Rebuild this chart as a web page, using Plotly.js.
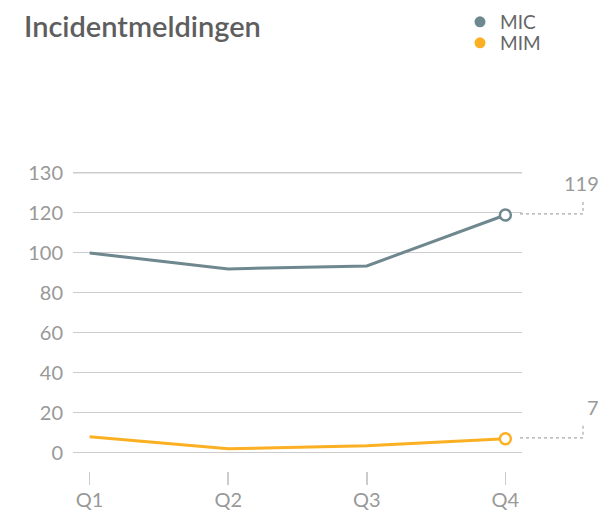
<!DOCTYPE html>
<html>
<head>
<meta charset="utf-8">
<script src="https://cdn.plot.ly/plotly-3.0.1.min.js"></script>
<style>
  html, body { margin: 0; padding: 0; background: #fff; }
  #chart { width: 603px; height: 510px; }
</style>
</head>
<body>
<div id="chart"></div>
<script>
// Data
const quarters = ['Q1', 'Q2', 'Q3', 'Q4'];
const mic = [100, 92, 93.5, 119];
const mim = [8, 2, 3.5, 7];

// y ticks: the top gridline carries the label 130
const yTickVals = [0, 20, 40, 60, 80, 100, 120, 140];
const yTickText = ['0', '20', '40', '60', '80', '100', '120', '130'];

const micColor = '#6f8890';
const mimColor = '#fbb023';
const last = quarters.length - 1;

function lineTrace(name, values, color) {
    return {
        x: quarters, y: values, name: name, type: 'scatter', mode: 'lines',
        line: { color: color, width: 3 }, showlegend: false, hoverinfo: 'skip'
    };
}

function endMarker(name, values, color) {
    return {
        x: [quarters[last]], y: [values[last]], name: name, type: 'scatter', mode: 'markers',
        marker: { symbol: 'circle', size: 11, color: '#fff', line: { color: color, width: 2.5 } },
        showlegend: false, hoverinfo: 'skip', cliponaxis: false
    };
}

// legend-only entries so the legend shows plain dots
function legendDot(name, color, legendId) {
    return {
        x: [null], y: [null], name: name, type: 'scatter', mode: 'markers',
        marker: { symbol: 'circle', size: 11, color: color }, legend: legendId
    };
}

const data = [
    lineTrace('MIC', mic, micColor),
    lineTrace('MIM', mim, mimColor),
    endMarker('MIC', mic, micColor),
    endMarker('MIM', mim, mimColor),
    legendDot('MIC', micColor, 'legend'),
    legendDot('MIM', mimColor, 'legend2')
];

// value labels with an elbow of dots to the last point
const annotations = [];
const shapes = [];
[mic, mim].forEach(series => {
    annotations.push({
        x: quarters[last], y: series[last], xref: 'x', yref: 'y',
        text: String(series[last]), showarrow: false,
        xanchor: 'right', yanchor: 'middle', xshift: 96, yshift: 32,
        font: { size: 20, color: '#999' }
    });
    shapes.push({
        type: 'path', xref: 'paper', yref: 'y',
        xsizemode: 'pixel', ysizemode: 'pixel',
        xanchor: 1, yanchor: series[last],
        path: 'M-2,1 H61 V14',
        line: { color: '#aaa', width: 1.2, dash: 'dot' }
    });
});

// top gridline (plotly leaves it out)
const topTick = yTickVals[yTickVals.length - 1];
shapes.push({
    type: 'line', xref: 'paper', yref: 'y', layer: 'below',
    x0: 0, x1: 1, y0: topTick, y1: topTick,
    line: { color: '#ccc', width: 1 }
});

function legendBox(yPx) {
    return {
        xref: 'container', yref: 'container',
        x: 460 / 603, xanchor: 'left',
        y: 1 - yPx / 510, yanchor: 'middle',
        font: { size: 19, color: '#666' },
        itemwidth: 30, bgcolor: 'rgba(0,0,0,0)'
    };
}

const layout = {
    width: 603,
    height: 510,
    paper_bgcolor: '#fff',
    plot_bgcolor: '#fff',
    font: { family: 'Lato, "Open Sans", sans-serif', color: '#666' },
    margin: { t: 163, l: 73, r: 81, b: 39, autoexpand: false },
    title: {
        text: 'Incidentmeldingen',
        x: 24 / 603, xanchor: 'left', xref: 'container',
        y: 1 - 27 / 510, yanchor: 'middle', yref: 'container',
        font: { size: 29, weight: 600, color: '#5e5e5e' }
    },
    showlegend: true,
    legend: legendBox(22),
    legend2: legendBox(43),
    xaxis: {
        type: 'category',
        range: [-0.12, 3.12],
        showgrid: false, zeroline: false, showline: false,
        ticks: 'outside', ticklen: 13, tickwidth: 1.5, tickcolor: '#ccc',
        ticklabelstandoff: -2,
        tickfont: { size: 20, color: '#999' },
        fixedrange: true
    },
    yaxis: {
        range: [-9.1, 145],
        tickvals: yTickVals, ticktext: yTickText,
        showgrid: true, gridcolor: '#ccc', gridwidth: 1,
        zeroline: false, showline: false, ticks: '',
        ticklabelstandoff: 9,
        tickfont: { size: 20, color: '#999' },
        fixedrange: true
    },
    annotations: annotations,
    shapes: shapes
};

Plotly.newPlot('chart', data, layout, { displayModeBar: false, staticPlot: true });
</script>
</body>
</html>
